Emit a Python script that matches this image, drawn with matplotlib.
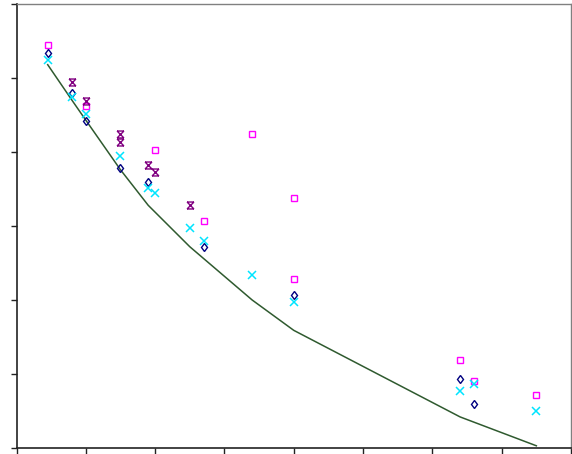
import matplotlib
matplotlib.use("Agg")
import matplotlib.pyplot as plt
from matplotlib.path import Path

# data (axis units: x 0..8, y 0..6)
line_x = [0.45, 0.8, 1.0, 1.5, 1.9, 2.5, 3.4, 4.0, 6.4, 7.5]
line_y = [5.18, 4.70, 4.43, 3.76, 3.28, 2.72, 2.00, 1.59, 0.42, 0.03]

sq_x = [0.45, 1.0, 2.0, 2.7, 3.4, 4.0, 4.0, 6.4, 6.6, 7.5]
sq_y = [5.45, 4.62, 4.03, 3.07, 4.24, 3.38, 2.28, 1.19, 0.91, 0.72]

dia_x = [0.45, 0.8, 1.0, 1.5, 1.9, 2.7, 4.0, 6.4, 6.6]
dia_y = [5.34, 4.80, 4.42, 3.79, 3.59, 2.72, 2.07, 0.93, 0.60]

cx_x = [0.45, 0.8, 1.0, 1.5, 1.9, 2.0, 2.5, 2.7, 3.4, 4.0, 6.4, 6.6, 7.5]
cx_y = [5.24, 4.74, 4.51, 3.95, 3.52, 3.44, 2.97, 2.80, 2.34, 1.97, 0.77, 0.86, 0.50]

st_x = [0.8, 1.0, 1.5, 1.5, 1.9, 2.0, 2.5]
st_y = [4.94, 4.69, 4.25, 4.14, 3.83, 3.73, 3.28]

# excel-like star: x with bars on top and bottom
star = Path([(-1, -1), (1, 1), (-1, 1), (1, -1), (-1, 1), (1, 1), (-1, -1), (1, -1)],
            [Path.MOVETO, Path.LINETO] * 4)

fig = plt.figure(figsize=(5.72, 4.54), dpi=100)
ax = fig.add_axes([16.5 / 572, 6 / 454, (571 - 16.5) / 572, (448 - 4) / 454])

ax.plot(line_x, line_y, color='#2f5a2f', lw=1.1)
ax.plot(sq_x, sq_y, ls='none', marker='s', ms=4.3, mfc='none', mec='#ff00ff', mew=1.0)
ax.plot(dia_x, dia_y, ls='none', marker='d', ms=4.5, mfc='none', mec='#000080', mew=1.0)
ax.plot(cx_x, cx_y, ls='none', marker='x', ms=5.5, color='#00e5ff', mew=1.1)
ax.plot(st_x, st_y, ls='none', marker=star, ms=5, color='#800080', mew=1.0)

ax.set_xlim(0, 8)
ax.set_ylim(0, 6)
ax.set_xticks(range(0, 9))
ax.set_yticks(range(0, 7))
ax.set_xticklabels([])
ax.set_yticklabels([])
ax.tick_params(direction='out', length=4, width=1, color='#222222')
for s in ['left', 'bottom']:
    ax.spines[s].set_color('#222222')
    ax.spines[s].set_linewidth(1.2)
for s in ['top', 'right']:
    ax.spines[s].set_color('#808080')
    ax.spines[s].set_linewidth(1)

fig.savefig('out.png', dpi=100)
